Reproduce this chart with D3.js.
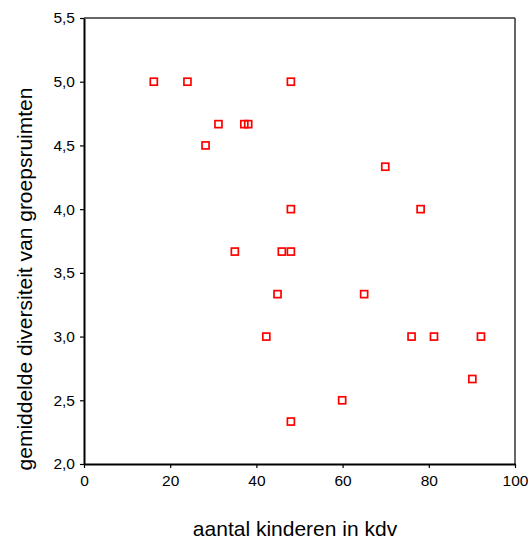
<!DOCTYPE html>
<html><head><meta charset="utf-8">
<script src="https://cdn.jsdelivr.net/npm/d3@7"></script>
<style>body{margin:0;background:#fff;overflow:hidden}svg{display:block}text{font-family:"Liberation Sans",Arial,sans-serif;fill:#000}</style>
</head><body>
<script>
const xValues = [16.2, 24.0, 48.0, 28.2, 31.2, 37.2, 38.1, 35.0, 69.9, 48.0, 78.1, 45.9, 48.0, 44.9, 65.0, 42.3, 76.0, 81.2, 92.1, 90.1, 59.9, 48.0];
const yValues = [5.0, 5.0, 5.0, 4.5, 4.667, 4.667, 4.667, 3.667, 4.333, 4.0, 4.0, 3.667, 3.667, 3.333, 3.333, 3.0, 3.0, 3.0, 3.0, 2.667, 2.5, 2.333];
const xTicks = [0, 20, 40, 60, 80, 100];
const yTicks = [2.0, 2.5, 3.0, 3.5, 4.0, 4.5, 5.0, 5.5];
const xTitle = "aantal kinderen in kdv";
const yTitle = "gemiddelde diversiteit van groepsruimten";

const W = 528, H = 537;
const L = 84, R = 515, T = 18, B = 464;
const svg = d3.select("body").append("svg").attr("width", W).attr("height", H);
const x = d3.scaleLinear().domain([0, 100]).range([L, R]);
const y = d3.scaleLinear().domain([2.0, 5.5]).range([B, T]);
const fmt = d => d3.format(".1f")(d).replace(".", ",");

svg.append("line").attr("x1", L).attr("x2", R).attr("y1", T).attr("y2", T).attr("stroke", "#333").attr("stroke-width", 1.5);
svg.append("line").attr("x1", R).attr("x2", R).attr("y1", T).attr("y2", B).attr("stroke", "#333").attr("stroke-width", 1.5);

const xa = svg.append("g").attr("transform", `translate(0,${B})`)
  .call(d3.axisBottom(x).tickValues(xTicks).tickSize(4).tickPadding(7).tickSizeOuter(0));
const ya = svg.append("g").attr("transform", `translate(${L},0)`)
  .call(d3.axisLeft(y).tickValues(yTicks).tickFormat(fmt).tickSize(4).tickPadding(5).tickSizeOuter(0));
[xa, ya].forEach(a => {
  a.select(".domain").attr("stroke", "#000").attr("stroke-width", 2);
  a.selectAll(".tick line").attr("stroke", "#000").attr("stroke-width", 1.2);
  a.selectAll("text").attr("font-size", 15.5).attr("font-family", "Liberation Sans, Arial, sans-serif").attr("fill", "#111");
});

svg.append("g").selectAll("rect").data(xValues.map((v, i) => [v, yValues[i]])).join("rect")
  .attr("x", d => x(d[0]) - 3.5).attr("y", d => y(d[1]) - 3.5)
  .attr("width", 7).attr("height", 7)
  .attr("fill", "none").attr("stroke", "#f00").attr("stroke-width", 1.7);

svg.append("text").attr("x", 295).attr("y", 536).attr("text-anchor", "middle").attr("font-size", 21).text(xTitle);
svg.append("text").attr("transform", `translate(32,279) rotate(-90)`).attr("text-anchor", "middle").attr("font-size", 21).text(yTitle);
</script>
</body></html>
